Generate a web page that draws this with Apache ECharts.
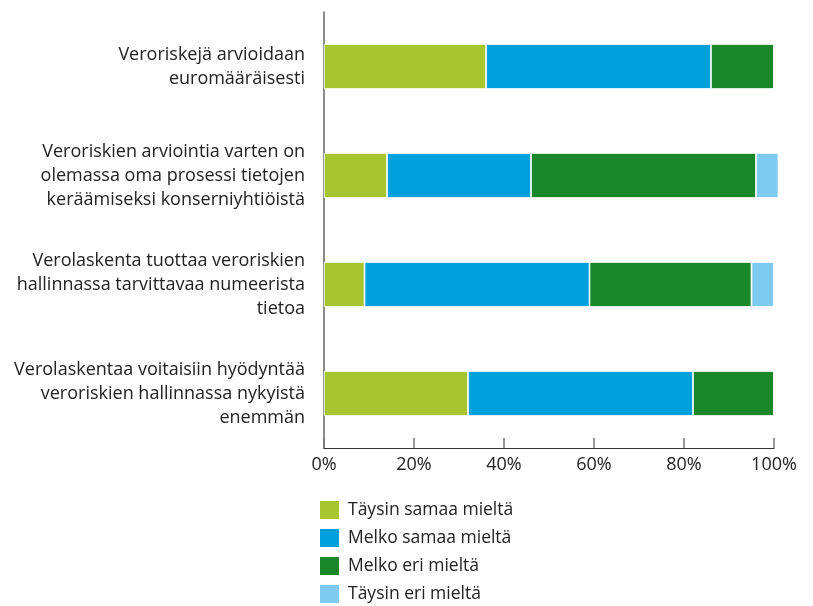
<!DOCTYPE html>
<html>
<head>
<meta charset="utf-8">
<script src="https://cdn.jsdelivr.net/npm/echarts@6/dist/echarts.min.js"></script>
<style>
  html, body { margin: 0; padding: 0; background: #fff; }
  #main { width: 813px; height: 606px; }
</style>
</head>
<body>
<div id="main"></div>
<script>
// kysymykset (ylhäältä alas)
const categories = [
  'Veroriskejä arvioidaan\neuromääräisesti',
  'Veroriskien arviointia varten on\nolemassa oma prosessi tietojen\nkeräämiseksi konserniyhtiöistä',
  'Verolaskenta tuottaa veroriskien\nhallinnassa tarvittavaa numeerista\ntietoa',
  'Verolaskentaa voitaisiin hyödyntää\nveroriskien hallinnassa nykyistä\nenemmän'
];
const seriesNames = ['Täysin samaa mieltä', 'Melko samaa mieltä', 'Melko eri mieltä', 'Täysin eri mieltä'];
const taysinSamaa = [36, 14, 9, 32];
const melkoSamaa = [50, 32, 50, 50];
const melkoEri = [14, 50, 36, 18];
const taysinEri = [0, 5, 5, 0];
const xTicks = [0, 20, 40, 60, 80, 100];

const colors = ['#a7c52f', '#00a0dc', '#1b872b', '#7fcbef'];
const values = [taysinSamaa, melkoSamaa, melkoEri, taysinEri];
const font = '"Open Sans", "Noto Sans", sans-serif';

const chart = echarts.init(document.getElementById('main'));
chart.setOption({
  animation: false,
  textStyle: { fontFamily: font },
  grid: { left: 324, right: 39, top: 12, bottom: 158 },
  legend: {
    orient: 'vertical',
    left: 318,
    top: 499,
    height: 200,
    padding: 0,
    itemWidth: 21,
    itemHeight: 20,
    itemGap: 6,
    icon: 'rect',
    data: seriesNames,
    textStyle: { fontSize: 17.5, color: '#222', fontFamily: font, padding: [0, 0, 0, 3] }
  },
  xAxis: {
    type: 'value',
    min: xTicks[0],
    max: xTicks[xTicks.length - 1],
    interval: 20,
    splitLine: { show: false },
    axisLine: { show: true, lineStyle: { color: '#333', width: 1 } },
    axisTick: { show: true, inside: true, length: 10, lineStyle: { color: '#777', width: 1.5 } },
    axisLabel: { formatter: '{value}%', fontSize: 18, color: '#222', margin: 8 }
  },
  yAxis: {
    type: 'category',
    inverse: true,
    data: categories,
    axisLine: { show: true, lineStyle: { color: '#666', width: 1.5 } },
    axisTick: { show: false },
    axisLabel: { fontSize: 18, color: '#222', lineHeight: 24, margin: 19, align: 'right' }
  },
  series: seriesNames.map((name, i) => ({
    name: name,
    type: 'bar',
    stack: 'total',
    barWidth: 45,
    clip: false,
    data: values[i],
    itemStyle: { color: colors[i], borderColor: '#fff', borderWidth: 0.8 }
  }))
});
</script>
</body>
</html>
